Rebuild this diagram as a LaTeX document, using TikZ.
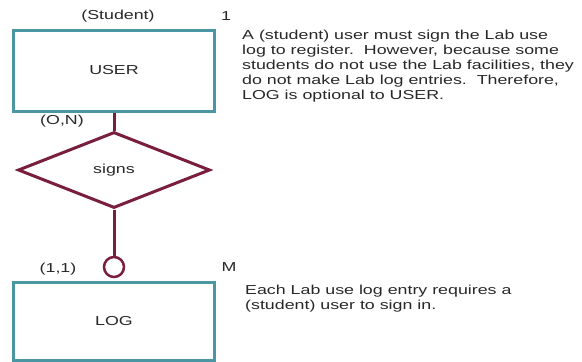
\documentclass[tikz,border=0pt]{standalone}
\usepackage{fontspec}
\setmainfont[FakeStretch=1.37]{Liberation Sans}
\usetikzlibrary{shapes.geometric}
\definecolor{entityteal}{RGB}{74,150,162}
\definecolor{relmaroon}{RGB}{122,30,62}
\definecolor{ink}{RGB}{40,40,40}
\begin{document}
\begin{tikzpicture}[x=1pt,y=-1pt,
  txt/.style={text=ink, inner sep=0pt, font=\fontsize{13}{15}\selectfont},
  entity/.style={txt, draw=entityteal, line width=3pt, minimum width=201pt},
  relation/.style={txt, diamond, draw=relmaroon, line width=3pt,
    minimum width=192pt, minimum height=76pt},
  optring/.style={circle, draw=relmaroon, line width=2.5pt, minimum size=20pt, inner sep=0pt},
  link/.style={draw=relmaroon, line width=3pt},
  note/.style={txt, align=left, anchor=north west}]
  \useasboundingbox (0,0) rectangle (582,362);

  % entities and the relationship
  \node[entity, minimum height=81pt] (user) at (114,70.5) {USER};
  \node[entity, minimum height=78pt] (log) at (114,321) {LOG};
  \node[relation] (signs) at (114,170) {signs};
  \node[optring] (opt) at (114,267) {};

  % connectors
  \draw[link] (user.south) -- (signs.north);
  \draw[link] (signs.south) -- (opt.north);

  % cardinality labels
  \node[txt] (role) at (118,16) {(Student)};
  \node[txt] (one) at (226,16) {1};
  \node[txt] (cardon) at (62,121) {(O,N)};
  \node[txt] (cardll) at (58,269) {(1,1)};
  \node[txt] (many) at (229,267) {M};

  % business rules
  \node[note] (rule1) at (242,30) {A (student) user must sign the Lab use\\
    log to register.\ \ However, because some\\
    students do not use the Lab facilities, they\\
    do not make Lab log entries.\ \ Therefore,\\
    LOG is optional to USER.};
  \node[note] (rule2) at (245,285) {Each Lab use log entry requires a\\
    (student) user to sign in.};
\end{tikzpicture}
\end{document}
